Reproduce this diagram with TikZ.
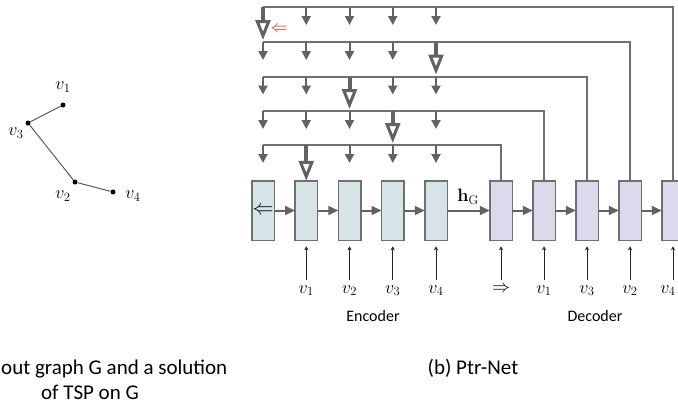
\RequirePackage{fix-cm}
\documentclass[tikz,border=0pt]{standalone}
\usepackage[no-math]{fontspec}
\setmainfont{Carlito}
\usetikzlibrary{positioning,arrows.meta,calc}
\definecolor{encfill}{RGB}{214,228,231}
\definecolor{decfill}{RGB}{221,217,236}
\definecolor{boxline}{RGB}{112,112,112}
\definecolor{arrgray}{RGB}{98,98,98}
\definecolor{ptrred}{RGB}{228,30,30}
\tikzstyle{ebox}=[rectangle, draw=boxline, fill=encfill, line width=1.5pt,
                  minimum width=22.5pt, minimum height=59.5pt, inner sep=0pt, outer sep=0pt]
\tikzstyle{dbox}=[ebox, fill=decfill]
\tikzstyle{vlab}=[inner sep=1pt, font=\fontsize{18}{20}\selectfont]
\tikzstyle{wlab}=[inner sep=1pt, font=\fontsize{16}{19}\selectfont]
\tikzstyle{captext}=[inner sep=0pt, font=\fontsize{21}{23}\selectfont]
\tikzstyle{harr}=[-{Triangle[width=9pt,length=10pt]}, draw=arrgray, line width=2pt]
\tikzstyle{iarr}=[-{Stealth[width=4pt,length=4pt]}, draw=black!85, line width=0.8pt,
                  shorten <=4pt, shorten >=6pt]
\tikzstyle{rline}=[-, draw=boxline, line width=2pt]
\tikzstyle{sarr}=[-{Triangle[width=9pt,length=9pt]}, draw=arrgray, line width=2pt]
\tikzstyle{barr}=[-{Triangle[open,width=15pt,length=20pt,line width=3pt]}, draw=arrgray,
                  line width=4pt]
\tikzstyle{gdot}=[circle, fill=black, inner sep=0pt, minimum size=5pt]
\tikzstyle{gline}=[-, draw=black!70, line width=0.9pt]
\begin{document}
\begin{tikzpicture}[x=1pt, y=-1pt, node distance=0pt]
\useasboundingbox (0,0) rectangle (678,407);
\clip (0,0) rectangle (678,407);

\node (V1) [gdot] at (63,105) {};
\node (V3) [gdot] at (28,123) {};
\node (V2) [gdot] at (75,182) {};
\node (V4) [gdot] at (113,192) {};
\draw[gline] (V1) -- (V3) -- (V2) -- (V4);
\node (V1lab) [vlab] at (63,87) {$v_1$};
\node (V3lab) [vlab] at (16,133) {$v_3$};
\node (V2lab) [vlab] at (63,196) {$v_2$};
\node (V4lab) [vlab] at (133,196) {$v_4$};

\node (ENC0) [ebox] at (263,210.5) {\fontsize{21}{21}\selectfont$\Leftarrow$};
\node (ENC1) [ebox,right=20.75pt of ENC0] {};
\node (ENC2) [ebox,right=20.75pt of ENC1] {};
\node (ENC3) [ebox,right=20.75pt of ENC2] {};
\node (ENC4) [ebox,right=20.75pt of ENC3] {};
\node (DEC1) [dbox,right=42.5pt of ENC4] {};
\node (DEC2) [dbox,right=20.5pt of DEC1] {};
\node (DEC3) [dbox,right=20.5pt of DEC2] {};
\node (DEC4) [dbox,right=20.5pt of DEC3] {};
\node (DEC5) [dbox,right=20.5pt of DEC4] {};

 \draw[harr] (ENC0) -- (ENC1);
 \draw[harr] (ENC1) -- (ENC2);
 \draw[harr] (ENC2) -- (ENC3);
 \draw[harr] (ENC3) -- (ENC4);
 \draw[harr] (ENC4) -- (DEC1);
 \draw[harr] (DEC1) -- (DEC2);
 \draw[harr] (DEC2) -- (DEC3);
 \draw[harr] (DEC3) -- (DEC4);
 \draw[harr] (DEC4) -- (DEC5);
\node (HG) [vlab] at (468,197) {$\mathbf{h}_{\mathrm{G}}$};

\node (IN1) [vlab,below=44pt of ENC1] {$v_1$};
\node (IN2) [vlab,below=44pt of ENC2] {$v_2$};
\node (IN3) [vlab,below=44pt of ENC3] {$v_3$};
\node (IN4) [vlab,below=44pt of ENC4] {$v_4$};
\node (OUT0) [vlab,below=44pt of DEC1] {$\Rightarrow$};
\node (OUT1) [vlab,below=44pt of DEC2] {$v_1$};
\node (OUT2) [vlab,below=44pt of DEC3] {$v_3$};
\node (OUT3) [vlab,below=44pt of DEC4] {$v_2$};
\node (OUT4) [vlab,below=44pt of DEC5, xshift=-5pt] {$v_4$};
 \draw[iarr] (IN1) -- (ENC1);
 \draw[iarr] (IN2) -- (ENC2);
 \draw[iarr] (IN3) -- (ENC3);
 \draw[iarr] (IN4) -- (ENC4);
 \draw[iarr] (OUT0) -- (DEC1);
 \draw[iarr] (OUT1) -- (DEC2);
 \draw[iarr] (OUT2) -- (DEC3);
 \draw[iarr] (OUT3) -- (DEC4);
 \draw[iarr] (OUT4.north -| DEC5) -- (DEC5);
\node (ENCLAB) [wlab] at (373,316) {Encoder};
\node (DECLAB) [wlab] at (595,316) {Decoder};

\coordinate (ROW1) at (0,7);
\coordinate (ROW2) at (0,42);
\coordinate (ROW3) at (0,76.5);
\coordinate (ROW4) at (0,111);
\coordinate (ROW5) at (0,145);
 \draw[rline] (DEC5.north) |- (ENC0 |- ROW1);
 \draw[rline] (DEC4.north) |- (ENC0 |- ROW2);
 \draw[rline] (DEC3.north) |- (ENC0 |- ROW3);
 \draw[rline] (DEC2.north) |- (ENC0 |- ROW4);
 \draw[rline] (DEC1.north) |- (ENC0 |- ROW5);

 \draw[barr, shorten >=2pt] (ENC0 |- ROW1) -- (ENC0 |- ROW2);
 \draw[sarr] (ENC1 |- ROW1) -- ++(0,18);
 \draw[sarr] (ENC2 |- ROW1) -- ++(0,18);
 \draw[sarr] (ENC3 |- ROW1) -- ++(0,18);
 \draw[sarr] (ENC4 |- ROW1) -- ++(0,18);
\node (PTR) [vlab, text=ptrred, font=\fontsize{17}{17}\selectfont] at (279,29) {$\Leftarrow$};

 \draw[sarr] (ENC0 |- ROW2) -- ++(0,18);
 \draw[sarr] (ENC1 |- ROW2) -- ++(0,18);
 \draw[sarr] (ENC2 |- ROW2) -- ++(0,18);
 \draw[sarr] (ENC3 |- ROW2) -- ++(0,18);
 \draw[barr, shorten >=2pt] (ENC4 |- ROW2) -- (ENC4 |- ROW3);

 \draw[sarr] (ENC0 |- ROW3) -- ++(0,18);
 \draw[sarr] (ENC1 |- ROW3) -- ++(0,18);
 \draw[barr, shorten >=2pt] (ENC2 |- ROW3) -- (ENC2 |- ROW4);
 \draw[sarr] (ENC3 |- ROW3) -- ++(0,18);
 \draw[sarr] (ENC4 |- ROW3) -- ++(0,18);

 \draw[sarr] (ENC0 |- ROW4) -- ++(0,18);
 \draw[sarr] (ENC1 |- ROW4) -- ++(0,18);
 \draw[sarr] (ENC2 |- ROW4) -- ++(0,18);
 \draw[barr, shorten >=2pt] (ENC3 |- ROW4) -- (ENC3 |- ROW5);
 \draw[sarr] (ENC4 |- ROW4) -- ++(0,18);

 \draw[sarr] (ENC0 |- ROW5) -- ++(0,18);
 \draw[barr] (ENC1 |- ROW5) -- (ENC1.north);
 \draw[sarr] (ENC2 |- ROW5) -- ++(0,18);
 \draw[sarr] (ENC3 |- ROW5) -- ++(0,18);
 \draw[sarr] (ENC4 |- ROW5) -- ++(0,18);

\node (CAPA) [captext, anchor=west] at (1,369) {out graph G and a solution};
\node (CAPA2) [captext] at (90,392) {of TSP on G};
\node (CAPB) [captext] at (473,368) {(b) Ptr-Net};

\end{tikzpicture}
\end{document}
